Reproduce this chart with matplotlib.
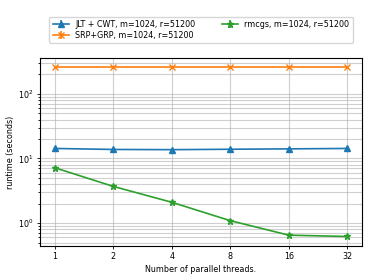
import matplotlib
matplotlib.use('Agg')
import matplotlib.pyplot as plt
from matplotlib.ticker import FixedLocator, FixedFormatter, NullLocator

threads = [1, 2, 4, 8, 16, 32]
jlt_cwt = [14.3, 13.8, 13.7, 13.9, 14.1, 14.3]
srp_grp = [265, 265, 265, 265, 265, 265]
rmcgs = [7.2, 3.7, 2.1, 1.09, 0.65, 0.62]
err_zero = [0, 0, 0, 0, 0, 0]

plt.rcParams['font.size'] = 5.8
plt.rcParams['axes.linewidth'] = 0.8

fig, ax = plt.subplots(figsize=(3.74, 2.8), dpi=100)
fig.subplots_adjust(left=0.107, right=0.968, top=0.793, bottom=0.121)

ax.errorbar(threads, jlt_cwt, yerr=err_zero, marker='^', markersize=4.5,
            linewidth=1.2, color='tab:blue', label='JLT + CWT, m=1024, r=51200')
ax.errorbar(threads, srp_grp, yerr=err_zero, marker='x', markersize=4.5,
            linewidth=1.2, color='tab:orange', label='SRP+GRP, m=1024, r=51200')
ax.errorbar(threads, rmcgs, yerr=err_zero, marker='*', markersize=4.5,
            linewidth=1.2, color='tab:green', label='rmcgs, m=1024, r=51200')

ax.set_yscale('log')
ax.set_xscale('log', base=2)
ax.xaxis.set_major_locator(FixedLocator(threads))
ax.xaxis.set_major_formatter(FixedFormatter([str(t) for t in threads]))
ax.xaxis.set_minor_locator(NullLocator())
ax.set_ylim(0.44, 360)
ax.tick_params(which='both', width=0.6, length=2.5, pad=2)
ax.tick_params(which='minor', length=1.5)

ax.grid(True, which='both', color='#b0b0b0', alpha=0.6, linewidth=0.8)
ax.set_xlabel('Number of parallel threads.', labelpad=2.5)
ax.set_ylabel('runtime (seconds)', labelpad=2.5)

ax.legend(loc='lower center', bbox_to_anchor=(0.5, 1.08), ncol=2,
          handlelength=2, columnspacing=3.3,
          borderaxespad=0, labelspacing=0.2)

fig.savefig('out.png', dpi=100)
